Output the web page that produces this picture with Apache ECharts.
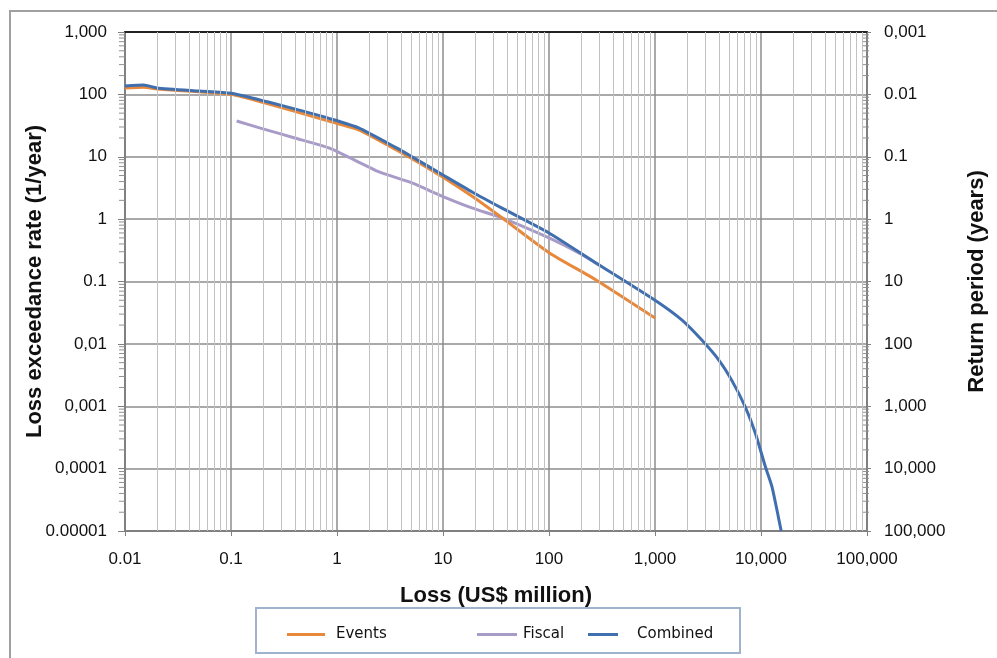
<!DOCTYPE html>
<html>
<head>
<meta charset="utf-8">
<script src="https://cdn.jsdelivr.net/npm/echarts@6/dist/echarts.min.js"></script>
<style>
  html, body { margin: 0; padding: 0; background: #fff; }
  #chart { width: 997px; height: 658px; }
</style>
</head>
<body>
<div id="chart"></div>
<script>
// loss (US$ million) and exceedance rate (1/year) for each curve
const eventsLoss = [0.01, 0.015, 0.02, 0.05, 0.1, 0.22, 0.44, 0.9, 1.6, 3.6, 5.1, 10, 19, 36, 100, 275, 1000];
const eventsRate = [126, 130, 122, 110, 100, 71, 51, 36, 27, 13, 9.3, 4.7, 2.3, 1.05, 0.29, 0.107, 0.026];

const fiscalLoss = [0.113, 0.2, 0.4, 0.85, 2.5, 5.1, 10, 19, 36, 100, 205, 300];
const fiscalRate = [37.5, 28, 20, 13.7, 5.7, 3.8, 2.3, 1.5, 1.05, 0.5, 0.27, 0.18];

const combinedLoss = [0.01, 0.015, 0.02, 0.05, 0.1, 0.22, 0.44, 0.9, 1.6, 3.6, 5.1, 10, 19, 36, 100, 275, 1000,
  1800, 2750, 4000, 5300, 7100, 8850, 11000, 12700, 15500];
const combinedRate = [136, 141, 127, 113, 104, 76, 56, 40, 29, 14, 10, 5.1, 2.7, 1.5, 0.6, 0.2, 0.05,
  0.024, 0.0116, 0.0055, 0.0026, 0.00098, 0.00037, 0.000107, 0.000051, 0.00001];

// tick labels, one per decade
const xTickLabels = ['0.01', '0.1', '1', '10', '100', '1,000', '10,000', '100,000'];
const leftTickLabels = ['0.00001', '0,0001', '0,001', '0,01', '0.1', '1', '10', '100', '1,000'];
const rightTickLabels = ['0,001', '0.01', '0.1', '1', '10', '100', '1,000', '10,000', '100,000'];

const zip = (xs, ys) => xs.map((x, i) => [x, ys[i]]);
const lbl = (arr, firstExp) => v => arr[Math.round(Math.log10(v)) - firstExp] || '';

// minor gridlines at 2..9 of every decade
const minorX = [];
for (let e = -2; e < 5; e++) for (let m = 2; m <= 9; m++) minorX.push(m * Math.pow(10, e));
const minorY = [];
for (let e = -5; e < 3; e++) for (let m = 2; m <= 9; m++) minorY.push(m * Math.pow(10, e));

const labelFont = { fontFamily: 'Liberation Sans, Arial', fontSize: 17, color: '#111' };
const titleFont = { fontFamily: 'Liberation Sans, Arial', fontWeight: 'bold', fontSize: 22, color: '#111' };
const legendFont = { fontFamily: 'DejaVu Sans', fontSize: 15, color: '#111' };

const chart = echarts.init(document.getElementById('chart'));
chart.setOption({
  animation: false,
  graphic: [
    { type: 'polyline', shape: { points: [[10, 700], [10, 11], [1000, 11]] }, style: { stroke: '#a0a0a0', lineWidth: 2, fill: null } },
    { type: 'rect', shape: { x: 256, y: 608, width: 484, height: 45 }, style: { stroke: '#9fb3cf', lineWidth: 2, fill: null } }
  ],
  grid: { left: 125, right: 130, top: 32, bottom: 127, outerBoundsMode: 'none' },
  legend: [
    { data: ['Events'], left: 287, top: 627, padding: 0, itemWidth: 38, itemHeight: 3, icon: 'rect', textStyle: Object.assign({ padding: [0, 0, 0, 6] }, legendFont) },
    { data: ['Fiscal'], left: 477, top: 627, padding: 0, itemWidth: 40, itemHeight: 3, icon: 'rect', textStyle: Object.assign({ padding: [0, 0, 0, 1] }, legendFont) },
    { data: ['Combined'], left: 588, top: 627, padding: 0, itemWidth: 30, itemHeight: 3, icon: 'rect', textStyle: Object.assign({ padding: [0, 0, 0, 14] }, legendFont) }
  ],
  xAxis: [
    {
      type: 'log', logBase: 10, min: 0.01, max: 100000,
      name: 'Loss (US$ million)', nameLocation: 'middle', nameGap: 54, nameMoveOverlap: false, nameTextStyle: titleFont,
      axisLine: { lineStyle: { color: '#808080', width: 2 } },
      axisTick: { show: true, length: 5, lineStyle: { color: '#808080' } },
      axisLabel: Object.assign({ margin: 20, formatter: lbl(xTickLabels, -2) }, labelFont),
      splitLine: { show: true, lineStyle: { color: '#8c8c8c', width: 1.5 } }
    },
    {
      type: 'log', logBase: 10, min: 0.01, max: 100000, position: 'top',
      axisLine: { lineStyle: { color: '#222', width: 2 } },
      axisTick: { show: false }, axisLabel: { show: false }, splitLine: { show: false }
    }
  ],
  yAxis: [
    {
      type: 'log', logBase: 10, min: 0.00001, max: 1000,
      name: 'Loss exceedance rate (1/year)', nameLocation: 'middle', nameGap: 79, nameMoveOverlap: false, nameTextStyle: titleFont,
      axisLine: { lineStyle: { color: '#808080', width: 2 } },
      axisTick: { show: true, length: 7, lineStyle: { color: '#808080' } },
      axisLabel: Object.assign({ margin: 18, formatter: lbl(leftTickLabels, -5) }, labelFont),
      splitLine: { show: true, lineStyle: { color: '#8c8c8c', width: 1.5 } }
    },
    {
      type: 'log', logBase: 10, min: 0.001, max: 100000, inverse: true, position: 'right',
      name: 'Return period (years)', nameLocation: 'middle', nameGap: 99, nameMoveOverlap: false, nameTextStyle: titleFont,
      axisLine: { lineStyle: { color: '#808080', width: 2 } },
      axisTick: { show: true, length: 4, lineStyle: { color: '#808080' } },
      axisLabel: Object.assign({ margin: 17, formatter: lbl(rightTickLabels, -3) }, labelFont),
      splitLine: { show: false }
    }
  ],
  series: [
    {
      name: 'minor', type: 'line', data: [], silent: true,
      markLine: {
        silent: true, symbol: 'none', label: { show: false },
        lineStyle: { color: '#c2c2c2', width: 1, type: 'solid' },
        data: minorX.map(v => ({ xAxis: v }))
      }
    },
    {
      name: 'minorTicks', type: 'custom', silent: true,
      data: minorY.map(v => [0.01, v]),
      renderItem: (params, api) => {
        const p = api.coord([0.01, api.value(1)]);
        const q = api.coord([100000, api.value(1)]);
        return {
          type: 'group',
          children: [
            { type: 'line', shape: { x1: p[0] - 6, y1: p[1], x2: p[0], y2: p[1] }, style: { stroke: '#909090', lineWidth: 1 } },
            { type: 'line', shape: { x1: q[0] - 4, y1: q[1], x2: q[0] + 2, y2: q[1] }, style: { stroke: '#909090', lineWidth: 1 } }
          ]
        };
      }
    },
    {
      name: 'Fiscal', type: 'line', data: zip(fiscalLoss, fiscalRate), smooth: 0.2,
      showSymbol: false, color: '#a99bc8', lineStyle: { width: 3 }
    },
    {
      name: 'Events', type: 'line', data: zip(eventsLoss, eventsRate), smooth: 0.2,
      showSymbol: false, color: '#e8883a', lineStyle: { width: 3 }
    },
    {
      name: 'Combined', type: 'line', data: zip(combinedLoss, combinedRate), smooth: 0.2,
      showSymbol: false, color: '#3f6fae', lineStyle: { width: 3 }
    }
  ]
});
</script>
</body>
</html>
